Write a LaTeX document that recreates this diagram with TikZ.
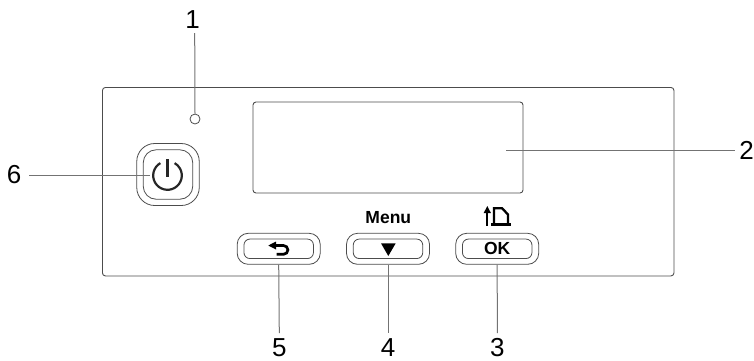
\documentclass[tikz,border=0pt]{standalone}
\usepackage{fontspec}
\setmainfont{Liberation Sans}
\usetikzlibrary{positioning}
\definecolor{leader}{gray}{0.45}
\definecolor{edgeline}{gray}{0.3}
\tikzset{
  panelbox/.style={draw=edgeline, line width=0.9pt, rounded corners=3pt},
  keyouter/.style={draw=edgeline, line width=0.8pt, minimum height=31pt, minimum width=83pt, rounded corners=11pt, inner sep=0pt},
  keyinner/.style={draw=edgeline, line width=0.8pt, minimum height=19.5pt, minimum width=69.5pt, rounded corners=6pt, inner sep=0pt},
  callout/.style={font=\fontsize{26}{27}\selectfont, inner sep=0pt},
  leaderline/.style={draw=leader, line width=1pt}
}
\begin{document}
\begin{tikzpicture}[x=1pt, y=-1pt]
  \useasboundingbox (0,0) rectangle (754,360);
  % panel and display
  \node[panelbox, minimum width=571.5pt, minimum height=188.5pt, inner sep=0pt] (panel) at (388.2,181.7) {};
  \node[panelbox, minimum width=270pt, minimum height=91pt, inner sep=0pt] (display) at (388,147.5) {};
  \node[draw=edgeline, line width=0.8pt, circle, minimum size=10pt, inner sep=0pt] (led) at (195,119) {};
  % power key
  \node[keyouter, minimum width=62.5pt, minimum height=62pt, rounded corners=18pt] (powerouter) at (168,174.5) {};
  \node[keyinner, minimum width=49.5pt, minimum height=49.5pt, rounded corners=13pt] (powerinner) at (168,174.5) {};
  \coordinate (powerleft) at (150,175);
  \draw[line width=2.2pt, black!85] (160.35,163.1) arc[start angle=120, end angle=420, radius=14.3pt];
  \draw[line width=2.2pt, black!85] (167.5,159) -- (167.5,177);
  % lower keys
  \node[keyouter] (backouter) at (278.7,248.8) {};
  \node[keyinner] (backinner) at (278.7,248.8) {};
  \node[keyouter] (menuouter) at (388,248.8) {};
  \node[keyinner] (menuinner) at (388,248.8) {};
  \node[keyouter] (okouter) at (497.2,248.8) {};
  \node[keyinner, font=\fontsize{17.5}{18}\selectfont\bfseries] (okinner) at (497.2,248.8) {OK};
  \node[font=\fontsize{17.5}{18}\selectfont\bfseries, inner sep=0pt] (menu) at (388.3,218) {Menu};
  \fill[black] (381,243.3) -- (395.7,243.3) -- (388.3,256) -- cycle;
  \fill[black] (268.3,245.5) -- (276,241.5) -- (276,249.5) -- cycle;
  \draw[line width=2.7pt, black] (275,245.5) -- (283.5,245.5) arc[start angle=90, end angle=-90, radius=4.4pt] -- (276.7,254.3);
  % tray icon above OK
  \fill[black] (487.3,206) -- (490.9,213) -- (483.7,213) -- cycle;
  \draw[line width=2.2pt, black] (487.3,212) -- (487.3,225.5);
  \draw[line width=2.3pt, black, line join=miter] (494,224.3) -- (494,208.2) -- (502,208.2) -- (508,214.5) -- (508,224.3);
  \draw[line width=2.3pt, black] (491,224.5) -- (511,224.5);
  % callouts
  \node[callout] (c1) at (192.5,20) {1};
  \node[callout] (c2) at (746.5,150) {2};
  \node[callout] (c3) at (497.3,347.5) {3};
  \node[callout] (c4) at (388,347.5) {4};
  \node[callout] (c5) at (279.3,347.5) {5};
  \node[callout] (c6) at (14,175) {6};
  \coordinate (dispinside) at (506,150);
  \coordinate (ledtop) at (194.7,33);
  \draw[leaderline] (ledtop) -- (led.north);
  \draw[leaderline] (dispinside) -- (735,150);
  \draw[leaderline] (okouter.south) -- (497.3,333);
  \draw[leaderline] (menuouter.south) -- (388,333);
  \draw[leaderline] (backouter.south) -- (279.3,333);
  \draw[leaderline] (29,175) -- (powerleft);
\end{tikzpicture}
\end{document}
